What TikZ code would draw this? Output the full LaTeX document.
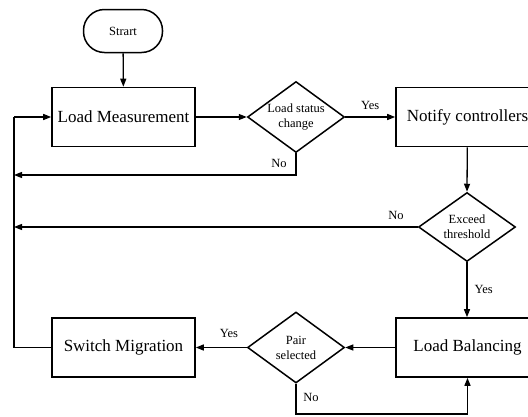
\documentclass[tikz,border=0pt]{standalone}
\usepackage{fontspec}
\setmainfont{Liberation Serif}
\usetikzlibrary{shapes.geometric,arrows.meta}

\begin{document}
\begin{tikzpicture}[x=1pt,y=-1pt,
  every node/.style={inner sep=0pt},
  flowbox/.style={draw, line width=1.6pt, minimum width=143pt, minimum height=59pt, font=\fontsize{17}{19}\selectfont},
  terminal/.style={draw, line width=1.5pt, rounded corners=21pt, minimum width=79pt, minimum height=43pt, font=\fontsize{12.5}{14}\selectfont},
  decision/.style={draw, diamond, line width=1.5pt, minimum width=97pt, minimum height=71pt},
  dtext/.style={align=center, font=\fontsize{12.5}{15}\selectfont},
  flow/.style={line width=1.3pt, -{Triangle[length=8pt,width=6pt]}},
  plain/.style={line width=1.3pt},
  tag/.style={font=\fontsize{12.5}{14}\selectfont}
]
\useasboundingbox (0,0) rectangle (528,416);
\clip (0,0) rectangle (528,416);

% process steps
\node[terminal] (start) at (123,31) {Strart};
\node[flowbox] (lm) at (123.5,117) {Load Measurement};
\node[flowbox] (nc) at (467.5,117) {Notify controllers};
\node[flowbox] (lb) at (467.5,347.5) {Load Balancing};
\node[flowbox] (sm) at (123.5,347.5) {Switch Migration};

% decisions
\node[decision] (d1) at (296,117) {};
\node[dtext] at (d1) {Load status\\change};
\node[decision, minimum height=69pt] (d2) at (467,227) {};
\node[dtext] at (d2) {Exceed\\threshold};
\node[decision] (d3) at (296,347.5) {};
\node[dtext] at (d3) {Pair\\selected};

% loop-back rail and corners
\coordinate (railtop) at (14,117);
\coordinate (railsm) at (14,347.5);
\coordinate (n1a) at (296,175);
\coordinate (n1b) at (14,175);
\coordinate (n2b) at (14,227);
\coordinate (n3a) at (296,414);
\coordinate (n3b) at (467.5,414);

% main flow
\draw[flow] (start) -- (lm);
\draw[flow] (lm) -- (d1);
\draw[flow] (d1) -- node[tag, above=7pt] {Yes} (nc);
\draw[flow] (nc) -- (d2.north);
\draw[flow] (d2) -- node[tag, right=7pt] {Yes} (lb.north -| d2.south);
\draw[flow] (lb) -- (d3);
\draw[flow] (d3) -- node[tag, above=9pt, pos=0.35] {Yes} (sm);

% "No" branches
\draw[flow] (d1.south) -- (n1a) -- (n1b);
\node[tag] at (279,163) {No};
\draw[flow] (d2.west) -- (n2b);
\node[tag] at (396,215) {No};
\draw[flow] (d3.south) -- (n3a) -- (n3b) -- (lb.south);
\node[tag] at (311,397) {No};

% return to measurement
\draw[plain] (sm.west) -- (railsm) -- (railtop);
\draw[flow] (railtop) -- (lm.west);
\end{tikzpicture}
\end{document}
